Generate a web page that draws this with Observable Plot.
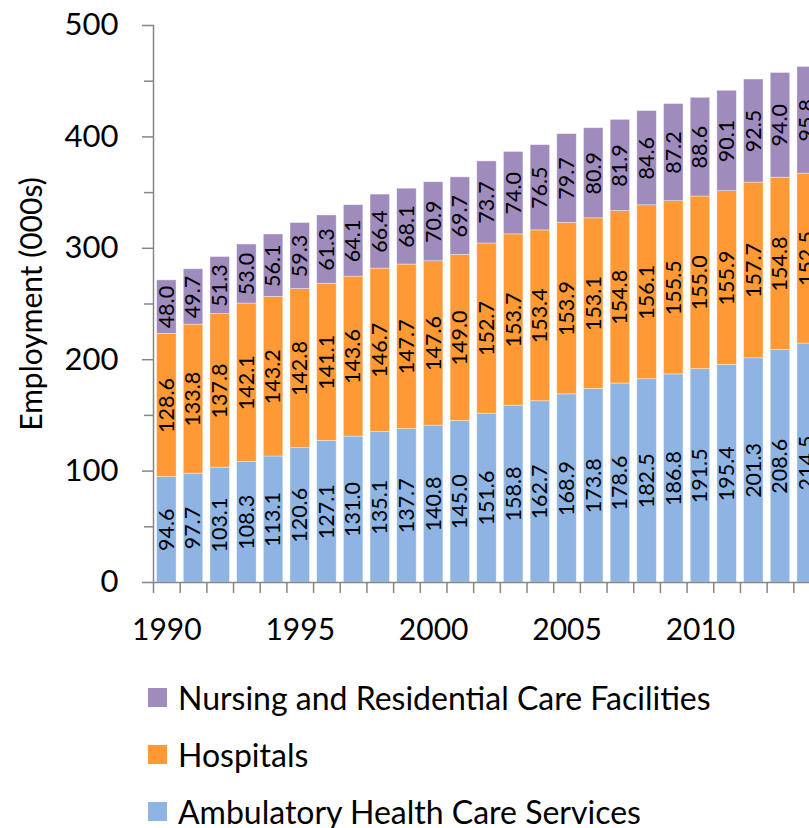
<!DOCTYPE html>
<html><head><meta charset="utf-8">
<script src="https://cdn.jsdelivr.net/npm/d3@7"></script>
<script src="https://cdn.jsdelivr.net/npm/@observablehq/plot@0.6"></script>
<style>
html,body{margin:0;padding:0;background:#fff;overflow:hidden;}
#wrap{width:809px;height:828px;overflow:hidden;position:relative;font-family:Lato,sans-serif;}
#wrap svg{max-width:none !important;display:block;}
.legend{padding-top:13.5px;}
.row{height:57px;display:flex;align-items:center;font-size:32px;color:#000;white-space:nowrap;}
.sw{width:19px;height:19px;margin-left:148px;margin-right:11px;flex:none;}
</style></head><body><div id="wrap"></div>
<script>
const years = [1990,1991,1992,1993,1994,1995,1996,1997,1998,1999,2000,2001,2002,2003,2004,2005,2006,2007,2008,2009,2010,2011,2012,2013,2014];
const ambulatory = [94.6,97.7,103.1,108.3,113.1,120.6,127.1,131.0,135.1,137.7,140.8,145.0,151.6,158.8,162.7,168.9,173.8,178.6,182.5,186.8,191.5,195.4,201.3,208.6,214.5];
const hospitals = [128.6,133.8,137.8,142.1,143.2,142.8,141.1,143.6,146.7,147.7,147.6,149.0,152.7,153.7,153.4,153.9,153.1,154.8,156.1,155.5,155.0,155.9,157.7,154.8,152.5];
const nursing = [48.0,49.7,51.3,53.0,56.1,59.3,61.3,64.1,66.4,68.1,70.9,69.7,73.7,74.0,76.5,79.7,80.9,81.9,84.6,87.2,88.6,90.1,92.5,94.0,95.8];
const seriesNames = ["Ambulatory Health Care Services","Hospitals","Nursing and Residential Care Facilities"];
const seriesColors = ["#8DB4E2","#FF9933","#A08BBD"];
const xTickLabels = [1990,1995,2000,2005,2010];
const yMajorTicks = [0,100,200,300,400,500];
const yMinorTicks = [50,150,250,350,450];
const yTitle = "Employment (000s)";

const seriesValues = [ambulatory, hospitals, nursing];
const data = [];
years.forEach((yr, i) => seriesNames.forEach((s, k) => data.push({year: yr, series: s, value: seriesValues[k][i]})));

const W = 822, ML = 153, MR = 2, H = 655, MT = 25, MB = 73;
const step = (W - ML - MR) / years.length;
const pxPerUnit = (H - MT - MB) / 500;
const axisColor = "#868686";
const font = "Lato, sans-serif";

const chart = Plot.plot({
  width: W, height: H, marginLeft: ML, marginRight: MR, marginTop: MT, marginBottom: MB,
  style: {fontFamily: font, background: "white", color: "black"},
  x: {type: "band", domain: years, paddingInner: 0.27, paddingOuter: 0.135, round: false},
  y: {domain: [0, 500], label: null},
  color: {domain: seriesNames, range: seriesColors},
  marks: [
    Plot.barY(data, {x: "year", y: "value", fill: "series", order: seriesNames, stroke: "white", strokeOpacity: 0.5, strokeWidth: 0.75}),
    Plot.text(data, Plot.stackY({x: "year", y: "value", z: "series", order: seriesNames, text: d => d.value.toFixed(1), rotate: -90, fontSize: 21.5, fill: "black"})),
    Plot.frame({anchor: "left", stroke: axisColor, strokeWidth: 1.5}),
    Plot.ruleY([0], {stroke: axisColor, strokeWidth: 1.5}),
    Plot.axisY({ticks: yMajorTicks, tickSize: 11, tickPadding: 24, fontSize: 31, stroke: axisColor, strokeWidth: 1.5, fill: "black", label: null}),
    Plot.axisY({ticks: yMinorTicks, tickSize: 9, tickFormat: () => "", stroke: axisColor, strokeWidth: 1.5, label: null}),
    Plot.ruleX(years, {x: d => d, dx: -step / 2, y1: 0, y2: -11 / pxPerUnit, stroke: axisColor, strokeWidth: 1.5}),
    Plot.axisX({ticks: xTickLabels, tickSize: 0, tickPadding: 36, tickFormat: d => String(d), fontSize: 30, fill: "black", label: null}),
    Plot.text([yTitle], {text: d => d, frameAnchor: "left", textAnchor: "middle", dx: -121, rotate: -90, fontSize: 30, fill: "black"})
  ]
});

const wrap = document.getElementById("wrap");
wrap.appendChild(chart);
const legend = document.createElement("div");
legend.className = "legend";
[2, 1, 0].forEach(k => {
  const row = document.createElement("div");
  row.className = "row";
  const sw = document.createElement("span");
  sw.className = "sw";
  sw.style.background = seriesColors[k];
  const t = document.createElement("span");
  t.textContent = seriesNames[k];
  row.appendChild(sw); row.appendChild(t);
  legend.appendChild(row);
});
wrap.appendChild(legend);
</script></body></html>
